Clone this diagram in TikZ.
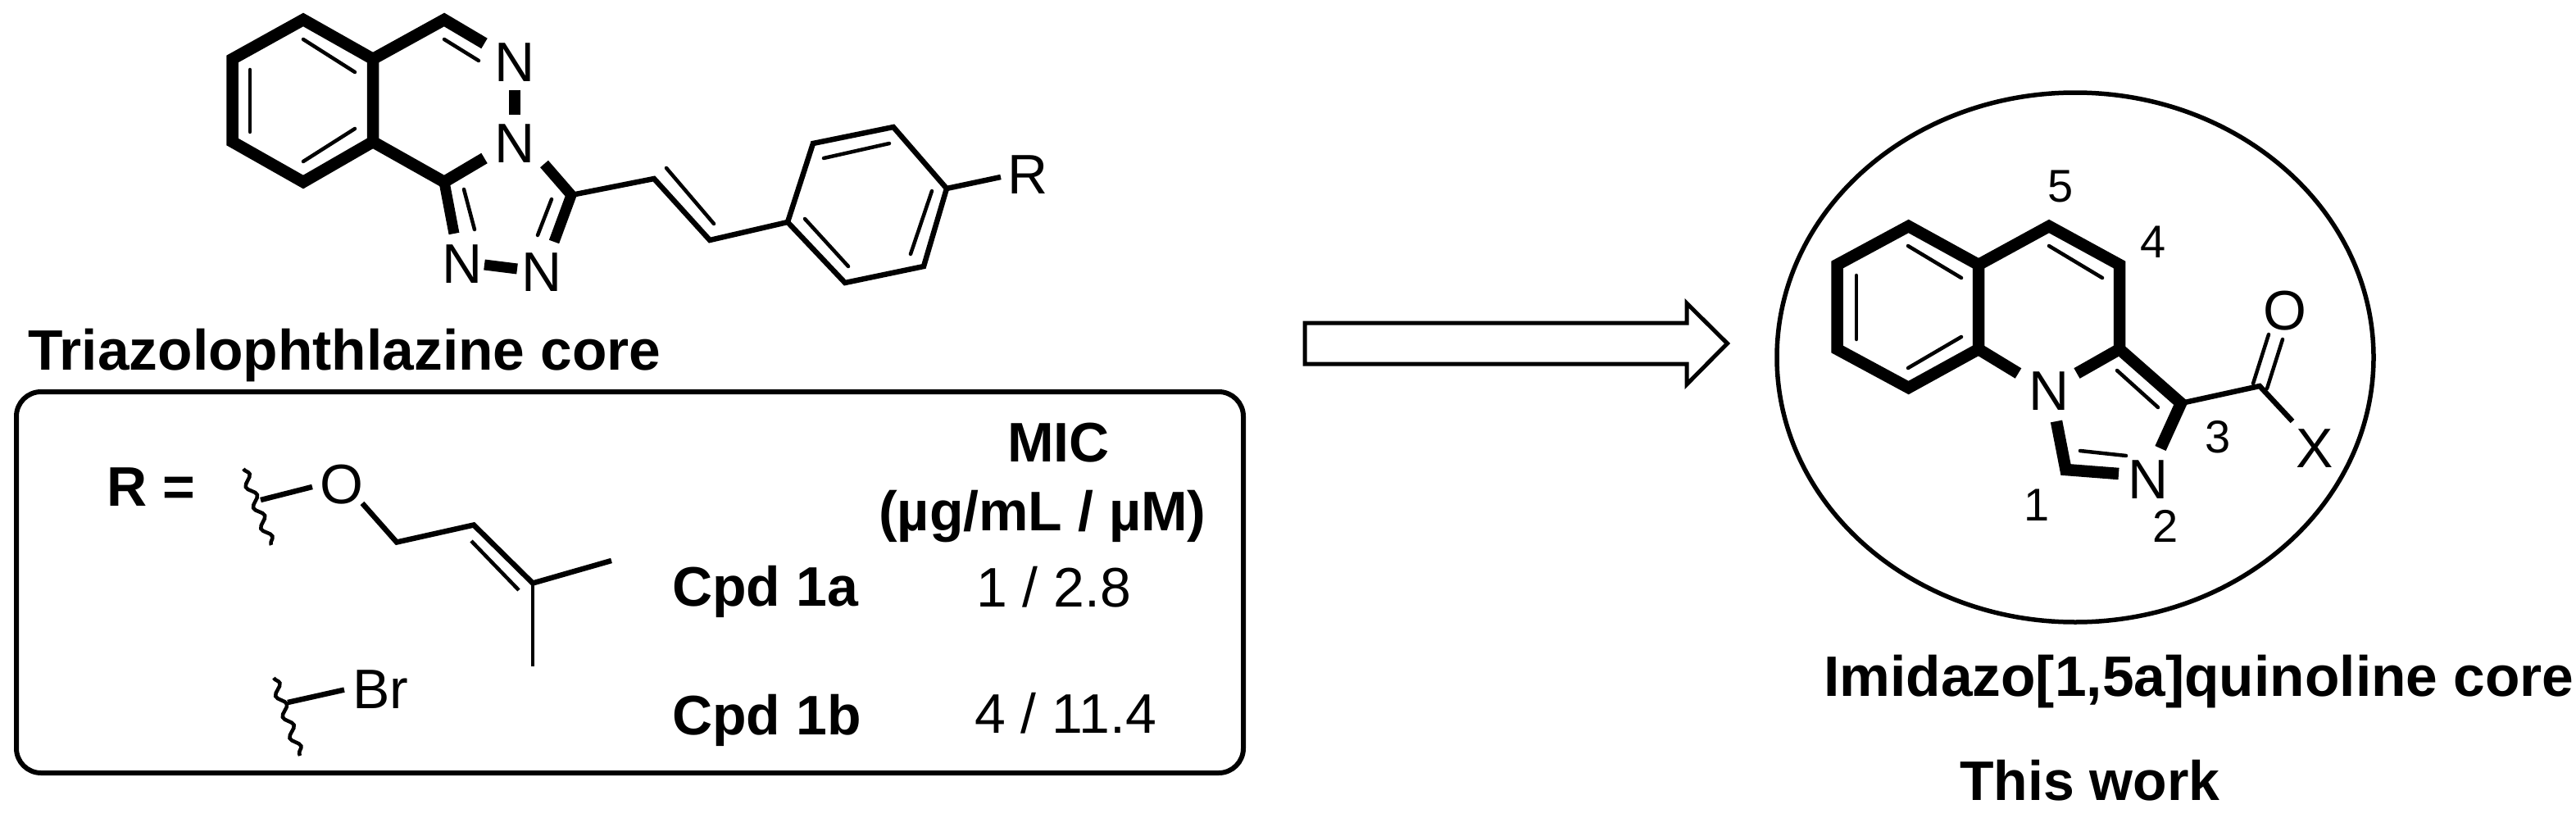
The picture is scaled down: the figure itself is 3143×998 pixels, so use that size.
\documentclass[tikz,border=0pt]{standalone}
\usepackage{fontspec}
\setmainfont{Liberation Sans}
\usetikzlibrary{decorations.pathmorphing}
\tikzset{
  thickbond/.style={line width=14.5pt,line join=miter,miter limit=10},
  midbond/.style={line width=6.5pt,line join=miter,miter limit=10},
  thinbond/.style={line width=4.5pt,line cap=round},
  atomlabel/.style={inner sep=0pt,font=\fontsize{68}{70}\selectfont},
  numlabel/.style={inner sep=0pt,font=\fontsize{56}{60}\selectfont},
  boldtext/.style={inner sep=0pt,anchor=base west,font=\fontsize{68}{70}\selectfont\bfseries},
  largebold/.style={boldtext,font=\fontsize{69.5}{70}\selectfont\bfseries},
  plaintext/.style={inner sep=0pt,anchor=base west,font=\fontsize{68}{70}\selectfont},
  wavy/.style={line width=4.5pt,decorate,decoration={snake,segment length=27pt,amplitude=5pt}}
}
\begin{document}
\begin{tikzpicture}[x=1pt,y=-1pt]
\useasboundingbox (0,0) rectangle (3143,998);
\fill[white] (0,0) rectangle (3143,998);

% ---------- Triazolophthalazine ----------
\coordinate (a1) at (370,24);
\coordinate (a2) at (455,72);
\coordinate (a3) at (455,173);
\coordinate (a4) at (370,222);
\coordinate (a5) at (283.5,173);
\coordinate (a6) at (283.5,72);
\coordinate (a7) at (542,24);
\coordinate (a8) at (591,53);
\coordinate (a9) at (542,222);
\coordinate (a10) at (591,193);
\node[atomlabel] (n1) at (628,76) {N};
\node[atomlabel] (n2) at (628,175) {N};
\node[atomlabel] (n3) at (564,322) {N};
\node[atomlabel] (n4) at (661,332) {N};
\node[atomlabel] (rr) at (1254,213) {R};
\draw[thickbond] (a2)--(a1)--(a6)--(a5)--(a4)--(a3);
\draw[thickbond] (a8)--(a7)--(a2)--(a3)--(a9)--(a10);
\draw[thinbond] (370,48)--(433,88);
\draw[thinbond] (305,85)--(305,161);
\draw[thinbond] (370,197)--(433,157);
\draw[thinbond] (542,48)--(584,74);
\draw[thickbond] (628,110)--(628,140);
\draw[thickbond,line width=13pt] (a9)--(554,285);
\draw[thinbond] (566,231)--(579,280);
\draw[thickbond,line width=13pt] (591,323)--(631,328);
\coordinate (c1) at (697,238);
\draw[thickbond,line width=13pt] (664,200)--(c1)--(676,295);
\draw[thinbond] (673,243)--(656,287);
\coordinate (c2) at (798,218);
\coordinate (c3) at (866,293);
\coordinate (r1) at (961,271);
\coordinate (r2) at (992,175);
\coordinate (r3) at (1090,155);
\coordinate (r4) at (1155,230);
\coordinate (r5) at (1127,325);
\coordinate (r6) at (1031,345);
\coordinate (r7) at (1221,216);
\draw[midbond] (c1)--(c2)--(c3)--(r1);
\draw[midbond] (r1)--(r2)--(r3)--(r4)--(r5)--(r6)--cycle;
\draw[thinbond] (813,205)--(871,273);
\draw[thinbond] (1005,193)--(1085,175);
\draw[thinbond] (1137,233)--(1111,310);
\draw[thinbond] (982,267)--(1035,325);
\draw[midbond] (r4)--(r7);
\node[largebold] (t1) at (34,451) {Triazolophthlazine core};

% ---------- R box ----------
\draw[line width=6pt,rounded corners=30pt] (20,478) rectangle (1517,943);
\node[boldtext] (t2) at (130,617) {R =};
\draw[wavy] (297,572)--(331,665);
\node[atomlabel] (o1) at (417,591) {O};
\coordinate (w1) at (318,610);
\coordinate (w2) at (381,594);
\draw[midbond] (w1)--(w2);
\coordinate (b0) at (442,614);
\coordinate (b1) at (484,661.5);
\coordinate (b2) at (578,640.5);
\coordinate (b3) at (650,711.5);
\coordinate (b4) at (746,684);
\coordinate (b5) at (650,812.6);
\draw[midbond] (b0)--(b1)--(b2)--(b3)--(b4);
\draw[line width=4.5pt] (b3)--(b5);
\draw[line width=4.5pt] (575,660)--(633,720);
\draw[wavy] (334,827)--(366,922);
\node[plaintext] (br) at (430,864) {Br};
\draw[midbond] (351,857)--(420,841.6);
\node[boldtext] (t3) at (1229,563) {MIC};
\node[boldtext] (t4) at (1072,647.5) {(µg/mL / µM)};
\node[boldtext] (t5) at (820,739.5) {Cpd 1a};
\node[plaintext] (t6) at (1191,740) {1 / 2.8};
\node[boldtext] (t7) at (820,896) {Cpd 1b};
\node[plaintext] (t8) at (1189,894) {4 / 11.4};

% ---------- Arrow ----------
\draw[line width=5pt,miter limit=10] (1592,394)--(2058,394)--(2058,370)--(2107.5,419)--(2058,469)--(2058,444)--(1592,444)--cycle;

% ---------- Imidazoquinoline ----------
\draw[line width=5.5pt] (2532,436) ellipse [x radius=364,y radius=323];
\coordinate (q1) at (2328.6,276);
\coordinate (q2) at (2414,323);
\coordinate (q3) at (2414,426);
\coordinate (q4) at (2328.6,473);
\coordinate (q5) at (2241.5,426);
\coordinate (q6) at (2241.5,323);
\coordinate (q7) at (2500,276);
\coordinate (q8) at (2586,323);
\coordinate (q9) at (2586,426);
\coordinate (q10) at (2661,492);
\coordinate (q11) at (2520.5,573);
\coordinate (q12) at (2757,471);
\node[atomlabel] (n5) at (2500,477) {N};
\node[atomlabel] (n6) at (2621,585) {N};
\node[atomlabel] (x1) at (2824,547) {X};
\node[atomlabel] (o2) at (2787.5,379) {O};
\draw[thickbond] (q2)--(q1)--(q6)--(q5)--(q4)--(q3);
\draw[thickbond] (q3)--(q2)--(q7)--(q8)--(q9)--(q10)--(2636,547);
\draw[thickbond] (q3)--(2462.5,455.5);
\draw[thickbond] (q9)--(2534,455.5);
\draw[thickbond] (2509,514)--(q11)--(2585,578);
\draw[thinbond] (2328,300)--(2393,339);
\draw[thinbond] (2265,336)--(2265,414);
\draw[thinbond] (2328,449)--(2393,411);
\draw[thinbond] (2500,300)--(2565,339);
\draw[thinbond] (2583,452)--(2633,497);
\draw[thinbond] (2538,550)--(2594,556);
\draw[midbond] (q10)--(q12)--(2797,514);
\draw[thinbond] (2749,468)--(2768,408);
\draw[thinbond] (2766,474)--(2785,414);
\node[numlabel] (d5) at (2514,228) {5};
\node[numlabel] (d4) at (2627,295) {4};
\node[numlabel] (d3) at (2706,533) {3};
\node[numlabel] (d2) at (2642,642) {2};
\node[numlabel] (d1) at (2485,616) {1};
\node[largebold] (t9) at (2225,849) {Imidazo[1,5a]quinoline core};
\node[boldtext] (t10) at (2391,976) {This work};
\end{tikzpicture}
\end{document}
